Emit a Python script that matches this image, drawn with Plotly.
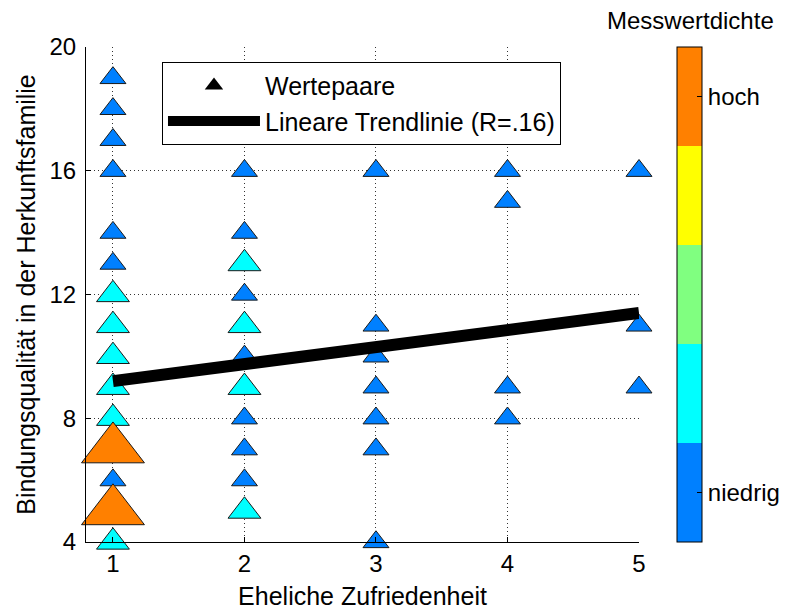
import plotly.graph_objects as go

# Wertepaare: Eheliche Zufriedenheit (x) vs. Bindungsqualität (y)
ehe = [1] * 15 + [2] * 11 + [3] * 7 + [4] * 4 + [5] * 3
bindung = [19, 18, 17, 16, 14, 13, 12, 11, 10, 9, 8, 7, 6, 5, 4,
           16, 14, 13, 12, 11, 10, 9, 8, 7, 6, 5,
           16, 11, 10, 9, 8, 7, 4,
           16, 15, 9, 8,
           16, 11, 9]
# Messwertdichte-Stufe je Wertepaar (1 = niedrig ... 5 = hoch)
dichte = [1, 1, 1, 1, 1, 1, 2, 2, 2, 2, 2, 5, 1, 5, 2,
          1, 1, 2, 1, 2, 1, 2, 1, 1, 1, 2,
          1, 1, 1, 1, 1, 1, 1,
          1, 1, 1, 1,
          1, 1, 1]

# Lineare Trendlinie
trend_x = [1, 5]
trend_y = [9.2, 11.4]

x_ticks = [1, 2, 3, 4, 5]
y_ticks = [4, 8, 12, 16, 20]
cbar_vals = [1, 5]
cbar_text = ["niedrig", "hoch"]

stufen_farben = ["#0080FF", "#00FFFF", "#80FF80", "#FFFF00", "#FF8000"]
groesse = {1: 22.5, 2: 28.5, 3: 36, 4: 45, 5: 54.5}

colorscale = []
for i, c in enumerate(stufen_farben):
    colorscale.append([i / 5, c])
    colorscale.append([(i + 1) / 5, c])

FONT = "Liberation Sans, Arial, sans-serif"

fig = go.Figure()

fig.add_trace(go.Scatter(
    x=ehe, y=bindung, mode="markers", showlegend=False, cliponaxis=False,
    marker=dict(
        symbol="triangle-up", opacity=1,
        size=[groesse[d] for d in dichte],
        color=dichte, colorscale=colorscale, cmin=0.5, cmax=5.5,
        line=dict(color="#1a1a1a", width=1),
        showscale=True,
        colorbar=dict(
            x=1.069, xanchor="left", xpad=0, y=0.5, yanchor="middle",
            len=1.0, lenmode="fraction", ypad=0, thickness=25,
            outlinecolor="black", outlinewidth=1,
            tickvals=cbar_vals, ticktext=cbar_text,
            ticks="inside", ticklen=5, tickcolor="black",
            tickfont=dict(family=FONT, size=24, color="black"),
        ),
    ),
))

# Legendeneintrag für die Wertepaare
fig.add_trace(go.Scatter(
    x=[None], y=[None], mode="markers", name="Wertepaare",
    marker=dict(symbol="triangle-up", size=16, color="black"),
))

fig.add_trace(go.Scatter(
    x=trend_x, y=trend_y, mode="lines", name="Lineare Trendlinie (R=.16)",
    line=dict(color="black", width=12),
))

axis_common = dict(
    showline=True, linecolor="black", linewidth=1, mirror=False,
    ticks="inside", ticklen=5, tickcolor="black",
    showgrid=True, gridcolor="#333333", gridwidth=1, griddash="1px,3px",
    zeroline=False,
    tickfont=dict(family=FONT, size=24, color="black"),
)

fig.update_xaxes(range=[0.795, 5], tickvals=x_ticks,
                 title=dict(text="Eheliche Zufriedenheit", standoff=12,
                            font=dict(family=FONT, size=25, color="black")),
                 **axis_common)
fig.update_yaxes(range=[4, 20], tickvals=y_ticks, ticklabelstandoff=4,
                 title=dict(text="Bindungsqualität in der Herkunftsfamilie", standoff=6,
                            font=dict(family=FONT, size=25, color="black")),
                 **axis_common)

fig.add_annotation(
    text="Messwertdichte", xref="paper", yref="paper",
    x=1.094, y=1.054, xanchor="center", yanchor="middle", showarrow=False,
    font=dict(family=FONT, size=24, color="black"),
)

fig.update_layout(
    width=794, height=610,
    margin=dict(l=86, r=155, t=47, b=68, autoexpand=False),
    paper_bgcolor="white", plot_bgcolor="white",
    font=dict(family=FONT, color="black"),
    legend=dict(
        x=0.1374, y=0.97, xanchor="left", yanchor="top",
        bgcolor="white", bordercolor="black", borderwidth=1,
        font=dict(family=FONT, size=25, color="black"),
        itemwidth=92, tracegroupgap=0,
    ),
)

fig.write_html("out.html")
